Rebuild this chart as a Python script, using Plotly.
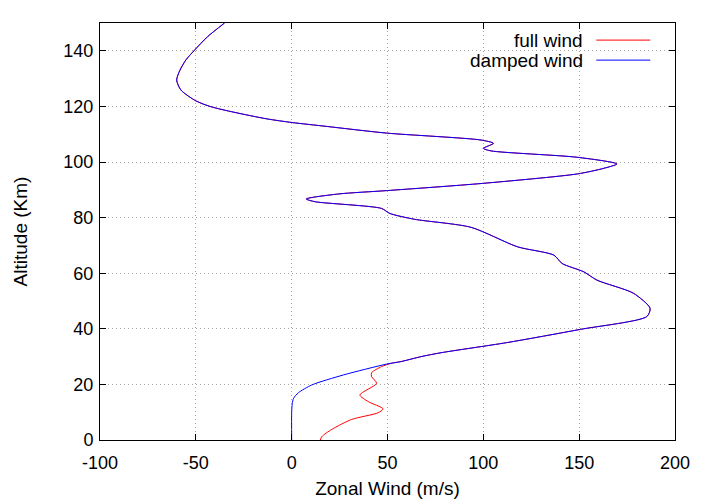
import plotly.graph_objects as go

# altitude profile (km) and zonal wind (m/s)
alt_upper = [28.2, 30, 31.4, 35, 39.8, 44.4, 47.4, 52.8, 57.5, 60.5, 63.5, 66.5, 69.5,
             76.5, 79.4, 81.5, 83.3, 85.7, 86.7, 88.5, 89.7, 92.3, 95.7, 97.7,
             99.3, 101.7, 104, 104.9, 106.7, 107.9, 110.4, 112.8, 114.2, 115.5,
             117.9, 119.9, 122, 125.9, 129.5, 133, 136.7, 140, 145, 150]
wind_upper = [57, 67.6, 78, 112, 150.7, 185.3, 187, 178.3, 159.3, 152.4, 141.1, 136.8,
              117.8, 93.6, 64.1, 51.2, 46.9, 12.3, 7.6, 24.4, 49.5, 99.5, 149,
              162.7, 169.7, 149, 104, 100, 105.3, 98.8, 49.5, 18.3, 0.2, -12.8,
              -30.1, -42.2, -50, -57.8, -60, -58.3, -55.2, -51, -44, -35]

# lower part where the two runs differ
alt_full_low = [0, 1.2, 3.8, 7.4, 9.8, 11.2, 13.8, 16.2, 20.4, 22.8, 24.2, 26.4, 27.6]
wind_full_low = [15, 15.7, 20.9, 31.3, 45.1, 47.7, 40, 35.6, 44.3, 41.7, 41.7, 46.9, 52]

alt_damped_low = [0, 10, 13, 15, 17, 19.8, 23.4, 27.3]
wind_damped_low = [0, 0, 0.3, 1, 3.5, 10.5, 27, 49.5]

x_ticks = [-100, -50, 0, 50, 100, 150, 200]
x_labels = ["-100", "-50", "0", "50", "100", "150", "200"]
y_ticks = [0, 20, 40, 60, 80, 100, 120, 140]

full_alt = alt_full_low + alt_upper
full_wind = wind_full_low + wind_upper
damped_alt = alt_damped_low + alt_upper
damped_wind = wind_damped_low + wind_upper

fig = go.Figure()
fig.add_trace(go.Scatter(x=full_wind, y=full_alt, mode="lines", name="full wind",
                         line=dict(color="#ff0000", width=1, shape="spline", smoothing=0.7)))
fig.add_trace(go.Scatter(x=damped_wind, y=damped_alt, mode="lines", name="damped wind",
                         line=dict(color="#0000ff", width=1, shape="spline", smoothing=0.7)))

tick_font = dict(family="Liberation Sans, Arial, sans-serif", size=18, color="black")
font = dict(family="Liberation Sans, Arial, sans-serif", size=19, color="black")

# gnuplot style key: text right aligned, line sample on the right
key = [("full wind", "#ff0000", 0.959), ("damped wind", "#0000ff", 0.911)]
for txt, col, yy in key:
    fig.add_annotation(text=txt, xref="paper", yref="paper", x=0.843, y=yy,
                       xanchor="right", yanchor="middle", showarrow=False, font=font)
    fig.add_shape(type="line", xref="paper", yref="paper", x0=0.863, x1=0.957,
                  y0=yy, y1=yy, line=dict(color=col, width=1))

axis_common = dict(showline=True, linecolor="black", linewidth=1, mirror="ticks",
                   ticks="inside", ticklen=6, tickcolor="black",
                   showgrid=True, gridcolor="#a8a8a8", griddash="1px,3px", gridwidth=1,
                   zeroline=False, tickfont=tick_font)

# the page body adds 8px, so margins are shifted by that amount
fig.update_layout(
    width=720, height=504,
    margin=dict(l=89, r=53, t=15, b=72),
    paper_bgcolor="white", plot_bgcolor="white",
    showlegend=False,
    font=font,
    xaxis=dict(range=[-100, 200], tickvals=x_ticks, ticktext=x_labels, ticklabelstandoff=6,
               title=dict(text="Zonal Wind (m/s)", font=font, standoff=10), **axis_common),
    yaxis=dict(range=[0, 150], tickvals=y_ticks, ticklabelstandoff=2,
               title=dict(text="Altitude (Km)", font=font, standoff=30), **axis_common),
)

fig.write_html("out.html")
